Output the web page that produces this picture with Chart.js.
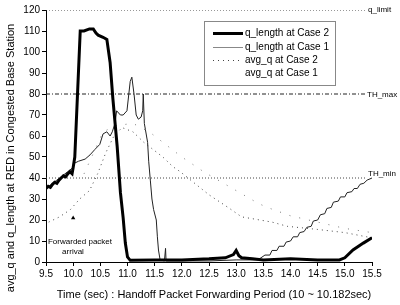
<!DOCTYPE html>
<html>
<head>
<meta charset="utf-8">
<script src="https://cdn.jsdelivr.net/npm/chart.js@4.4.0/dist/chart.umd.min.js"></script>
<style>
  html, body { margin: 0; padding: 0; background: #fff; }
  #wrap { width: 400px; height: 305px; }
</style>
</head>
<body>
<div id="wrap"><canvas id="chart" width="400" height="305"></canvas></div>
<script>
// q_length at Case 2 (thick)
const q2X = [9.5, 9.54, 9.58, 9.62, 9.66, 9.7, 9.74, 9.78, 9.82, 9.86, 9.9, 9.94, 9.98, 10.0, 10.03, 10.08, 10.13, 10.2, 10.3, 10.37, 10.42, 10.46, 10.55, 10.62, 10.68, 10.73, 10.81, 10.87, 10.92, 10.96, 11.0, 11.05, 11.5, 12.0, 12.5, 12.8, 12.95, 13.0, 13.05, 13.1, 13.3, 13.5, 14.0, 14.5, 14.9, 15.0, 15.15, 15.34, 15.5];
const q2Y = [35, 36, 35.5, 37, 38, 37.5, 39, 40, 41, 40.5, 42, 43, 42, 45, 50, 80, 110, 110, 111, 111, 109, 108, 107, 106, 95, 78, 55, 33, 21, 9, 2.4, 0.8, 1, 1, 1.5, 2, 3.5, 5.5, 3, 2, 1.5, 1, 1.5, 1, 1, 2, 5.7, 9, 11.5];

// q_length at Case 1 (thin)
const q1X = [9.5, 9.6, 9.7, 9.8, 9.9, 10.0, 10.02, 10.1, 10.22, 10.31, 10.4, 10.49, 10.55, 10.62, 10.68, 10.72, 10.77, 10.8, 10.87, 10.92, 10.99, 11.05, 11.08, 11.12, 11.16, 11.2, 11.25, 11.28, 11.29, 11.31, 11.33, 11.37, 11.39, 11.42, 11.45, 11.48, 11.53, 11.55, 11.57, 11.6, 11.68, 11.7, 11.71, 12.0, 12.5, 13.0, 13.4, 13.53, 13.62, 13.66, 13.75, 13.79, 13.88, 13.92, 14.0, 14.05, 14.13, 14.17, 14.25, 14.3, 14.38, 14.42, 14.5, 14.55, 14.63, 14.67, 14.75, 14.79, 14.88, 14.92, 15.0, 15.04, 15.13, 15.17, 15.23, 15.28, 15.35, 15.41, 15.5];
const q1Y = [35, 37, 39, 41, 43, 45, 47, 48, 49, 51, 53.6, 56, 61, 62, 60, 62, 66, 72, 70, 70, 72, 86, 88, 80, 70, 68, 69, 72, 80, 66, 63, 57, 48, 39, 30, 25, 20, 12, 5.7, 1, 0.5, 6.5, 0.5, 0.5, 0.5, 1, 1, 3.3, 3.3, 5.5, 5.5, 7.5, 7.5, 9.5, 10, 12, 12, 14, 14.5, 16.5, 17, 19.5, 20, 22.5, 23, 25.5, 26, 28.5, 29, 31, 31, 33, 33.5, 35, 35, 37, 37.5, 39, 40];

// avg_q at Case 2 (dotted)
const a2X = [9.55, 9.75, 9.95, 10.12, 10.3, 10.45, 10.6, 10.75, 10.9, 11.1, 11.3, 11.65, 11.83, 11.97, 12.5, 12.85, 13.1, 13.66, 13.94, 14.5, 15.0, 15.5];
const a2Y = [19, 21.5, 25, 30, 34, 42, 52, 60, 64, 62, 57, 50, 45.5, 43, 32, 26, 21.5, 19, 17, 15.5, 14, 11.5];

// avg_q at Case 1 (sparse dots)
const a1X = [10.2, 10.55, 10.8, 11.1, 11.4, 11.7, 12.0, 12.4, 12.8, 13.2, 13.4, 13.57, 14.0, 14.5, 15.0, 15.5];
const a1Y = [42, 62, 65, 66, 62, 56, 50, 43, 37, 31, 28, 26, 22, 19, 16, 14];

// thresholds
const qLimit = 120;
const thMax = 80;
const thMin = 40;
const lineEnd = 15.4;

const xTicks = [9.5, 10.0, 10.5, 11.0, 11.5, 12.0, 12.5, 13.0, 13.5, 14.0, 14.5, 15.0, 15.5];
const yTicks = [0, 10, 20, 30, 40, 50, 60, 70, 80, 90, 100, 110, 120];

const legendLabels = ['q_length at Case 2', 'q_length at Case 1', 'avg_q at Case 2', 'avg_q at Case 1'];

function pts(xs, ys) {
  return xs.map((x, i) => ({ x: x, y: ys[i] }));
}

const FONT = '"Liberation Sans", Arial, sans-serif';

const series = [
  { data: pts(q2X, q2Y), borderColor: '#000', borderWidth: 3, borderDash: [] },
  { data: pts(q1X, q1Y), borderColor: '#222', borderWidth: 1, borderDash: [] },
  { data: pts(a2X, a2Y), borderColor: '#444', borderWidth: 1, borderDash: [1, 4] },
  { data: pts(a1X, a1Y), borderColor: '#777', borderWidth: 1, borderDash: [1, 9] }
];

const thresholds = [
  { data: pts([9.5, lineEnd], [qLimit, qLimit]), borderColor: '#333', borderWidth: 1, borderDash: [1, 2] },
  { data: pts([9.5, lineEnd], [thMax, thMax]), borderColor: '#222', borderWidth: 1, borderDash: [4, 2, 1, 2] },
  { data: pts([9.5, lineEnd], [thMin, thMin]), borderColor: '#444', borderWidth: 1, borderDash: [1, 2] }
];

const datasets = series.concat(thresholds).map(s => Object.assign({
  showLine: true,
  pointRadius: 0,
  fill: false,
  tension: 0
}, s));

// forwarded packet arrival marker
datasets.push({
  data: [{ x: 10.0, y: 21 }],
  showLine: false,
  pointStyle: 'triangle',
  pointRadius: 2.5,
  backgroundColor: '#000',
  borderColor: '#000',
  borderWidth: 0
});

// draws legend box, titles, threshold labels and annotation
const decorations = {
  id: 'decorations',
  afterDraw(chart) {
    const ctx = chart.ctx;
    const xs = chart.scales.x;
    const ys = chart.scales.y;
    ctx.save();

    // legend box
    ctx.strokeStyle = '#888';
    ctx.lineWidth = 1;
    ctx.fillStyle = '#fff';
    ctx.fillRect(204.5, 21.5, 131, 64);
    ctx.strokeRect(204.5, 21.5, 131, 64);
    const rowY = [33, 47, 60, 73];
    ctx.font = '10px ' + FONT;
    ctx.textBaseline = 'middle';
    ctx.textAlign = 'left';
    series.forEach((s, i) => {
      if (i < 3) {
        ctx.beginPath();
        ctx.setLineDash(s.borderDash);
        ctx.strokeStyle = i === 1 ? '#888' : s.borderColor;
        ctx.lineWidth = s.borderWidth;
        ctx.moveTo(213, rowY[i] + 0.5);
        ctx.lineTo(243, rowY[i] + 0.5);
        ctx.stroke();
        ctx.setLineDash([]);
      }
      ctx.fillStyle = '#000';
      ctx.fillText(legendLabels[i], 245, rowY[i]);
    });

    // threshold labels
    ctx.font = '8px ' + FONT;
    ctx.fillStyle = '#000';
    ctx.textBaseline = 'middle';
    ctx.fillText('q_limit', 368, ys.getPixelForValue(qLimit));
    ctx.fillText('TH_max', 367, ys.getPixelForValue(thMax) + 1);
    ctx.fillText('TH_min', 368, ys.getPixelForValue(thMin) - 4);

    // annotation
    ctx.font = '8px ' + FONT;
    ctx.textAlign = 'center';
    ctx.fillText('Forwarded packet', 80, 242);
    ctx.fillText('arrival', 73, 252);

    // axis titles
    ctx.font = '11px ' + FONT;
    ctx.textAlign = 'center';
    ctx.fillText('Time (sec) : Handoff Packet Forwarding Period (10 ~ 10.182sec)', 214, 295);
    ctx.translate(11, 158);
    ctx.rotate(-Math.PI / 2);
    ctx.fillText('avg_q and q_length at RED in Congested Base Station', 0, 0);
    ctx.restore();
  }
};

new Chart(document.getElementById('chart').getContext('2d'), {
  type: 'scatter',
  data: { datasets: datasets },
  options: {
    responsive: false,
    animation: false,
    devicePixelRatio: 1,
    layout: { padding: { top: 10, right: 28, left: 0, bottom: 0 } },
    plugins: {
      legend: { display: false },
      tooltip: { enabled: false }
    },
    scales: {
      x: {
        type: 'linear',
        min: 9.5,
        max: 15.5,
        afterBuildTicks: scale => { scale.ticks = xTicks.map(v => ({ value: v })); },
        afterFit: scale => { scale.height = 43; },
        ticks: {
          color: '#000',
          font: { size: 10, family: FONT },
          maxRotation: 0,
          padding: 2,
          callback: v => v.toFixed(1)
        },
        grid: { display: true, drawOnChartArea: false, drawTicks: true, tickLength: 4, color: '#000' },
        border: { color: '#000', width: 1 }
      },
      y: {
        min: 0,
        max: 120,
        afterBuildTicks: scale => { scale.ticks = yTicks.map(v => ({ value: v })); },
        afterFit: scale => { scale.width = 46; },
        ticks: {
          color: '#000',
          font: { size: 10, family: FONT },
          padding: 2
        },
        grid: { display: true, drawOnChartArea: false, drawTicks: true, tickLength: 4, color: '#000' },
        border: { color: '#000', width: 1 }
      }
    }
  },
  plugins: [decorations]
});
</script>
</body>
</html>
